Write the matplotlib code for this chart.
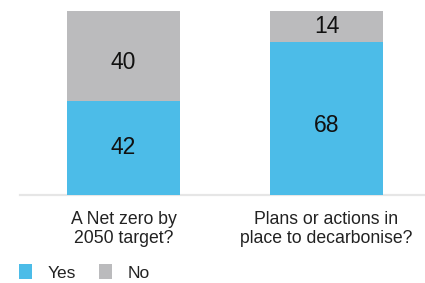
import matplotlib
matplotlib.use("Agg")
import matplotlib.pyplot as plt
from matplotlib.patches import Patch
from matplotlib.transforms import offset_copy

categories = ["A Net zero by\n2050 target?", "Plans or actions in\nplace to decarbonise?"]
yes_vals = [42, 68]
no_vals = [40, 14]
series_names = ["Yes", "No"]

BLUE = "#4CBCE8"
GRAY = "#BBBBBD"

plt.rcParams['font.family'] = ['Liberation Sans', 'DejaVu Sans']

W, H = 425, 283
fig = plt.figure(figsize=(W / 100, H / 100), dpi=100)
ax = fig.add_axes([20 / W, (H - 194.5) / H, 1 - 20 / W, (194.5 - 11) / H])

x = list(range(len(categories)))
bw = 0.557
ax.bar(x, yes_vals, width=bw, color=BLUE, edgecolor="none", zorder=3)
ax.bar(x, no_vals, width=bw, bottom=yes_vals, color=GRAY, edgecolor="none", zorder=3)

# label placement: larger segments have their label set a bit lower
def lbl(i, y, v, big):
    tr = offset_copy(ax.transData, fig=fig, x=0, y=(-5 if big else 0), units="points")
    ax.text(i, y, str(v), ha="center", va="center", fontsize=16.5,
            color="#111111", zorder=4, transform=tr)

for i in x:
    lbl(i, yes_vals[i] / 2, yes_vals[i], yes_vals[i] > 50)
    lbl(i, yes_vals[i] + no_vals[i] / 2, no_vals[i], 30 < no_vals[i] < 50 and yes_vals[i] > 0)

ax.set_xlim(-0.51, 1.485)
ax.set_ylim(0, 82)
for s in ["top", "right", "left"]:
    ax.spines[s].set_visible(False)
ax.spines["bottom"].set_color("#E6E6E6")
ax.spines["bottom"].set_linewidth(1.6)
ax.spines["bottom"].set_zorder(1)
ax.set_yticks([])
ax.set_xticks(x)
ax.set_xticklabels(categories, fontsize=12.7, color="#222222", linespacing=1.12)
ax.tick_params(axis="x", length=0, pad=12)

handles = [Patch(facecolor=BLUE, edgecolor="none"), Patch(facecolor=GRAY, edgecolor="none")]
fig.legend(handles, series_names, loc="upper left", bbox_to_anchor=(12 / W, 1 - 257 / H),
           ncol=2, frameon=False, fontsize=12.5, handlelength=0.75, handleheight=1.0,
           handletextpad=0.9, columnspacing=1.3, borderaxespad=0, labelcolor="#222222")

fig.savefig("out.png", dpi=100)
